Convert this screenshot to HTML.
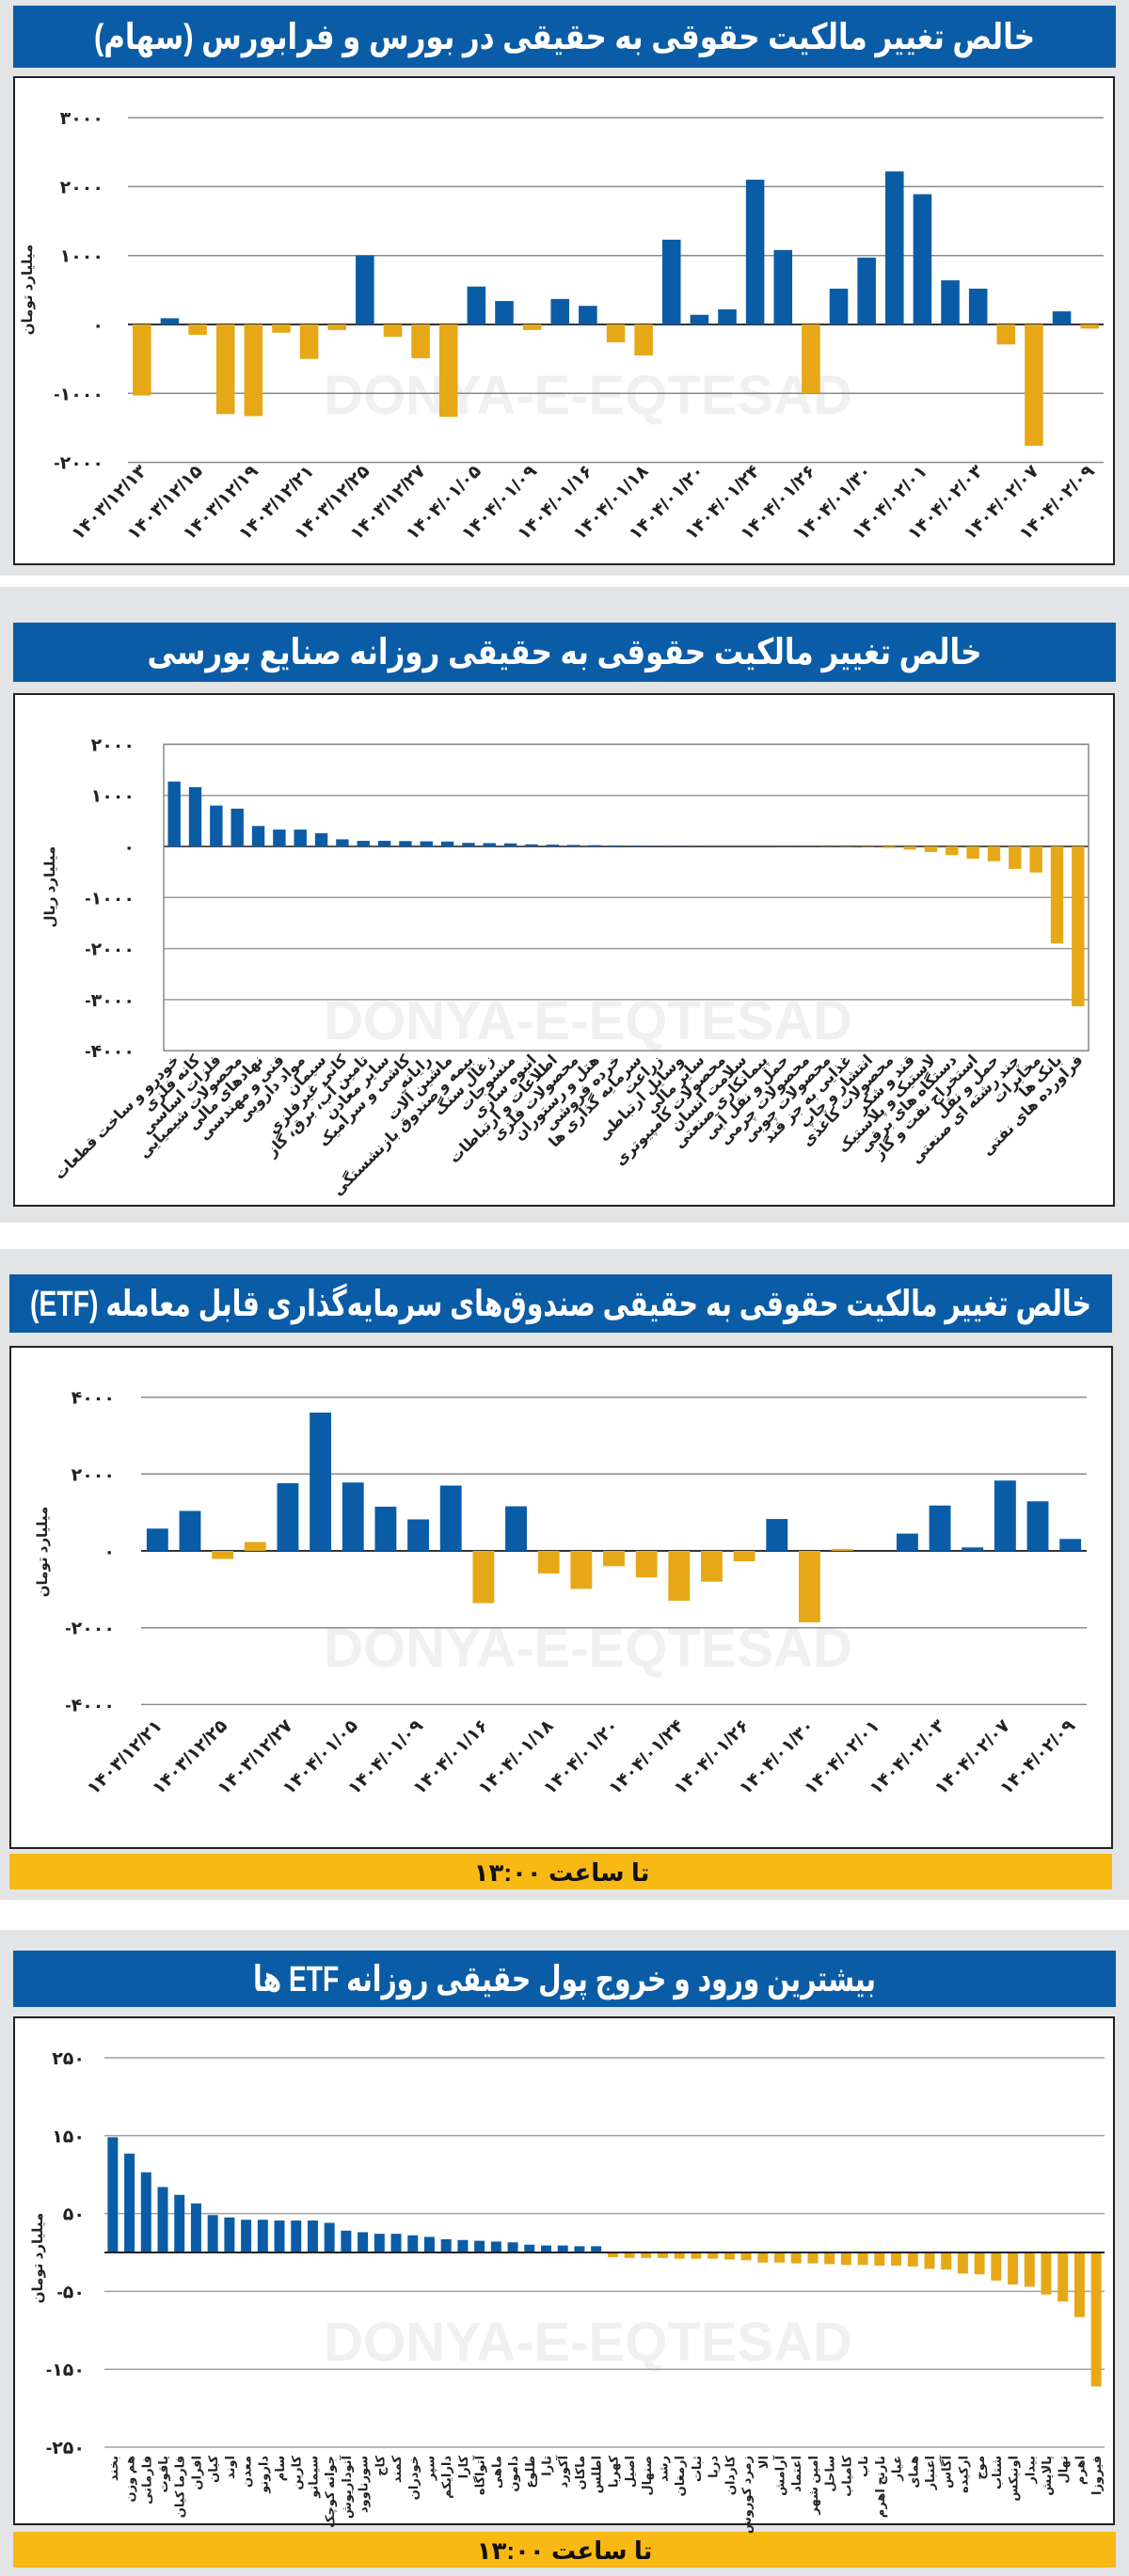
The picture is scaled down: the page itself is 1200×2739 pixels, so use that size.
<!DOCTYPE html>
<html><head><meta charset="utf-8"><style>
html,body{margin:0;padding:0;background:#fff;}
svg{display:block;font-family:"Liberation Sans","DejaVu Sans",sans-serif;}
.t{font-weight:bold;fill:#fff;}
.tick{font-size:19px;font-weight:bold;fill:#222;}
.ax{font-size:15px;font-weight:bold;fill:#222;}
.wm{font-size:58px;font-weight:bold;fill:#f0f0f0;}
</style></head><body>
<svg id="page" width="1200" height="2739" viewBox="0 0 1200 2739" xmlns="http://www.w3.org/2000/svg">
<rect x="0" y="0" width="1200" height="612" fill="#e3e4e6"/>
<rect x="0" y="624" width="1200" height="676" fill="#e3e4e6"/>
<rect x="0" y="1328" width="1200" height="692" fill="#e3e4e6"/>
<rect x="0" y="2052" width="1200" height="687" fill="#e3e4e6"/>

<rect x="14" y="6" width="1172" height="66" fill="#0b5ca6"/>
<text class="t" x="600" y="52" font-size="38" direction="rtl" text-anchor="middle" textLength="1000" lengthAdjust="spacingAndGlyphs">خالص تغییر مالکیت حقوقی به حقیقی در بورس و فرابورس (سهام)</text>
<rect x="14" y="662" width="1172" height="63" fill="#0b5ca6"/>
<text class="t" x="600" y="706" font-size="38" direction="rtl" text-anchor="middle" textLength="887" lengthAdjust="spacingAndGlyphs">خالص تغییر مالکیت حقوقی به حقیقی روزانه صنایع بورسی</text>
<rect x="10" y="1355" width="1172" height="62" fill="#0b5ca6"/>
<text class="t" x="596" y="1399" font-size="38" direction="rtl" text-anchor="middle" textLength="1128" lengthAdjust="spacingAndGlyphs">خالص تغییر مالکیت حقوقی به حقیقی صندوق‌های سرمایه‌گذاری قابل معامله (ETF)</text>
<rect x="14" y="2074" width="1172" height="60" fill="#0b5ca6"/>
<text class="t" x="600" y="2117" font-size="38" direction="rtl" text-anchor="middle" textLength="662" lengthAdjust="spacingAndGlyphs">بیشترین ورود و خروج پول حقیقی روزانه ETF ها</text>

<rect x="15" y="82" width="1169" height="518" fill="#fff" stroke="#222" stroke-width="2"/>
<rect x="15" y="738" width="1169" height="544" fill="#fff" stroke="#222" stroke-width="2"/>
<rect x="11" y="1432" width="1171" height="533" fill="#fff" stroke="#222" stroke-width="2"/>
<rect x="15" y="2145" width="1169" height="539" fill="#fff" stroke="#222" stroke-width="2"/>

<rect x="10" y="1971" width="1172" height="38" fill="#f9b914"/>
<text x="597" y="2000" font-size="26" font-weight="bold" fill="#111" direction="rtl" text-anchor="middle">تا ساعت ۱۳:۰۰</text>
<rect x="14" y="2692" width="1172" height="38" fill="#f9b914"/>
<text x="600" y="2721" font-size="26" font-weight="bold" fill="#111" direction="rtl" text-anchor="middle">تا ساعت ۱۳:۰۰</text>

<text class="wm" x="625" y="440" text-anchor="middle">DONYA-E-EQTESAD</text>
<text class="wm" x="625" y="1105" text-anchor="middle">DONYA-E-EQTESAD</text>
<text class="wm" x="625" y="1772" text-anchor="middle">DONYA-E-EQTESAD</text>
<text class="wm" x="625" y="2510" text-anchor="middle">DONYA-E-EQTESAD</text>

<g id="c1"></g>
<g id="c2"></g>
<g id="c3"></g>
<g id="c4"></g>
</svg>
<script>
const c1Dates = ["۱۴۰۳/۱۲/۱۳","۱۴۰۳/۱۲/۱۵","۱۴۰۳/۱۲/۱۹","۱۴۰۳/۱۲/۲۱","۱۴۰۳/۱۲/۲۵","۱۴۰۳/۱۲/۲۷","۱۴۰۴/۰۱/۰۵","۱۴۰۴/۰۱/۰۹","۱۴۰۴/۰۱/۱۶","۱۴۰۴/۰۱/۱۸","۱۴۰۴/۰۱/۲۰","۱۴۰۴/۰۱/۲۴","۱۴۰۴/۰۱/۲۶","۱۴۰۴/۰۱/۳۰","۱۴۰۴/۰۲/۰۱","۱۴۰۴/۰۲/۰۳","۱۴۰۴/۰۲/۰۷","۱۴۰۴/۰۲/۰۹"];
const c1Values = [-1030,90,-150,-1300,-1330,-120,-500,-80,1000,-180,-490,-1340,550,340,-80,370,270,-260,-450,1230,140,220,2100,1080,-1000,520,970,2220,1890,640,520,-290,-1760,190,-60];
const c1Ticks = [3000,2000,1000,0,-1000,-2000];
const c1TickLabels = ["۳۰۰۰","۲۰۰۰","۱۰۰۰","۰","-۱۰۰۰","-۲۰۰۰"];
const c2Industries = ["خودرو و ساخت قطعات","کانه فلزی","فلزات اساسی","محصولات شیمیایی","نهادهای مالی","فنی و مهندسی","مواد دارویی","سیمان","کانی غیرفلزی","تامین آب، برق، گاز","سایر معادن","کاشی و سرامیک","رایانه","ماشین آلات","بیمه و صندوق بازنشستگی","زغال سنگ","منسوجات","انبوه سازی","اطلاعات و ارتباطات","محصولات فلزی","هتل و رستوران","خرده فروشی","سرمایه گذاری ها","زراعت","وسایل ارتباطی","سایر مالی","محصولات کامپیوتری","سلامت انسان","پیمانکاری صنعتی","حمل و نقل آبی","محصولات چرمی","محصولات چوبی","غذایی به جز قند","انتشار و چاپ","محصولات کاغذی","قند و شکر","لاستیک و پلاستیک","دستگاه های برقی","استخراج نفت و گاز","حمل و نقل","چند رشته ای صنعتی","مخابرات","بانک ها","فراورده های نفتی"];
const c2Values = [1270,1160,800,740,400,330,330,260,140,110,110,105,100,95,70,65,60,40,35,30,25,20,15,8,5,3,2,1,0,-1,-2,-3,-5,-8,-30,-60,-110,-170,-240,-290,-440,-510,-1900,-3130];
const c2Ticks = [2000,1000,0,-1000,-2000,-3000,-4000];
const c2TickLabels = ["۲۰۰۰","۱۰۰۰","۰","-۱۰۰۰","-۲۰۰۰","-۳۰۰۰","-۴۰۰۰"];
const c3Dates = ["۱۴۰۳/۱۲/۲۱","۱۴۰۳/۱۲/۲۵","۱۴۰۳/۱۲/۲۷","۱۴۰۴/۰۱/۰۵","۱۴۰۴/۰۱/۰۹","۱۴۰۴/۰۱/۱۶","۱۴۰۴/۰۱/۱۸","۱۴۰۴/۰۱/۲۰","۱۴۰۴/۰۱/۲۴","۱۴۰۴/۰۱/۲۶","۱۴۰۴/۰۱/۳۰","۱۴۰۴/۰۲/۰۱","۱۴۰۴/۰۲/۰۳","۱۴۰۴/۰۲/۰۷","۱۴۰۴/۰۲/۰۹"];
const c3Values = [580,1040,-210,230,1760,3600,1780,1150,820,1700,-1360,1160,-590,-990,-400,-690,-1300,-800,-270,830,-1860,50,0,450,1180,90,1830,1290,310];
const c3Highlight = [0,0,1,1,0,0,0,0,0,0,1,0,1,1,1,1,1,1,1,0,1,1,0,0,0,0,0,0,0];
const c3Ticks = [4000,2000,0,-2000,-4000];
const c3TickLabels = ["۴۰۰۰","۲۰۰۰","۰","-۲۰۰۰","-۴۰۰۰"];
const c4Funds = ["بخند","هم وزن","فارمانی","یاقوت","فارما کیان","افران","کیان","اوند","معدن","دارونو","سام","کارین","سیمانو","جوانه کوچک","آتوداریوش","سورناوود","کاج","کمند","خودران","سپر","دارایکم","کارا","آتواگاه","ماهی","دامون","طلوع","تارا","آکورد","ماکان","اطلس","کهربا","اصیل","صنهال","رشد","ارمغان","ثبات","دریا","کاردان","زمرد کوروش","الا","آرامش","اعتماد","امین شهر","ساحل","کامیاب","ناب","نارنج اهرم","عیار","همای","اعتبار","آگاس","ارکیده","موج","شتاب","اونیکس","بیدار","پالایش","نهال","اهرم","فیروزا"];
const c4Values = [148,127,103,84,74,63,48,45,42,42,41,41,41,38,28,26,24,24,22,20,17,16,15,14,13,10,9,9,8,8,-6,-7,-7,-7,-8,-8,-8,-9,-10,-13,-13,-14,-14,-15,-16,-16,-17,-17,-18,-21,-22,-27,-28,-36,-41,-44,-54,-63,-83,-172];
const c4Ticks = [250,150,50,-50,-150,-250];
const c4TickLabels = ["۲۵۰","۱۵۰","۵۰","-۵۰","-۱۵۰","-۲۵۰"];

const NS = "http://www.w3.org/2000/svg";
const BLUE = "#0b5ca6", YEL = "#e6a817";
function mk(tag, attrs, parent){ const e=document.createElementNS(NS,tag); for(const k in attrs) e.setAttribute(k,attrs[k]); parent.appendChild(e); return e; }

function drawChart(id, cfg){
  const g = document.getElementById(id);
  const n = cfg.values.length;
  const slot = (cfg.right-cfg.left)/n;
  const y = v => cfg.zeroY - v*cfg.pxPerUnit;
  const xc = i => cfg.left + slot*(i+0.5);
  cfg.ticks.forEach((t,i)=>{
    const ln = mk("line",{x1:cfg.left,x2:cfg.right,y1:y(t),y2:y(t),stroke:t===0?cfg.zeroColor:cfg.gridColor,"stroke-width":t===0?2:1.5},g);
    
    
    const tx = mk("text",{x:cfg.tickX,y:y(t)+7,"text-anchor":"end",class:"tick"},g);
    tx.textContent = cfg.tickLabels[i];
    
    
  });
  if(cfg.frame){
    const fr = mk("rect",{x:cfg.left,y:y(cfg.ticks[0]),width:cfg.right-cfg.left,height:y(cfg.ticks[cfg.ticks.length-1])-y(cfg.ticks[0]),fill:"none",stroke:"#888","stroke-width":1.5},g);
    
    
  }
  cfg.values.forEach((v,i)=>{
    const w = slot*cfg.barRatio;
    const top = Math.min(y(v),cfg.zeroY), h = Math.abs(y(v)-cfg.zeroY);
    const col = cfg.colorOf(v,i);
    const r = mk("rect",{x:xc(i)-w/2,y:top,width:w,height:Math.max(h,0),fill:col},g);
    
    
  });
  if(cfg.ticks.indexOf(0)<0){
    const zl = mk("line",{x1:cfg.left,x2:cfg.right,y1:cfg.zeroY,y2:cfg.zeroY,stroke:cfg.zeroColor,"stroke-width":2},g);
    
    
  }
  cfg.labels.forEach((lab,j)=>{
    const i = j*cfg.labelStep;
    const lx = xc(i)+cfg.labelDx, ly = cfg.labelY;
    const tx = mk("text",{x:lx,y:ly,"text-anchor":"end","font-size":cfg.labelSize,"font-weight":"bold",fill:"#222",transform:`rotate(${cfg.labelRot} ${lx} ${ly})`},g);
    tx.textContent = lab;
    
    
  });
  const at = mk("text",{x:cfg.axX,y:cfg.axY,"text-anchor":"middle",class:"ax",transform:`rotate(-90 ${cfg.axX} ${cfg.axY})`},g);
  at.textContent = cfg.axTitle;
  
  
}

drawChart("c1",{values:c1Values,labels:c1Dates,labelStep:2,ticks:c1Ticks,tickLabels:c1TickLabels,
  left:136,right:1173,zeroY:345,pxPerUnit:0.0733,tickX:110,gridColor:"#8a8a8a",zeroColor:"#333",
  barRatio:0.66,colorOf:v=>v>=0?BLUE:YEL,labelY:502,labelDx:6,labelRot:-45,labelSize:19,
  axX:34,axY:308,axTitle:"میلیارد تومان"});
drawChart("c2",{values:c2Values,labels:c2Industries,labelStep:1,ticks:c2Ticks,tickLabels:c2TickLabels,
  left:174,right:1157,zeroY:900,pxPerUnit:0.0543,tickX:143,gridColor:"#9a9a9a",zeroColor:"#555",frame:true,
  barRatio:0.6,colorOf:v=>v>=0?BLUE:YEL,labelY:1128,labelDx:6,labelRot:-45,labelSize:16,
  axX:58,axY:943,axTitle:"میلیارد ریال"});
drawChart("c3",{values:c3Values,labels:c3Dates,labelStep:2,ticks:c3Ticks,tickLabels:c3TickLabels,
  left:150,right:1155,zeroY:1649,pxPerUnit:0.04085,tickX:122,gridColor:"#8a8a8a",zeroColor:"#333",
  barRatio:0.66,colorOf:(v,i)=>c3Highlight[i]?YEL:BLUE,labelY:1836,labelDx:6,labelRot:-45,labelSize:19,
  axX:50,axY:1650,axTitle:"میلیارد تومان"});
drawChart("c4",{values:c4Values,labels:c4Funds,labelStep:1,ticks:c4Ticks,tickLabels:c4TickLabels,
  left:111,right:1174,zeroY:2395,pxPerUnit:0.828,tickX:90,gridColor:"#a0a0a0",zeroColor:"#222",
  barRatio:0.62,colorOf:v=>v>=0?BLUE:YEL,labelY:2611,labelDx:5,labelRot:-90,labelSize:13,
  axX:45,axY:2401,axTitle:"میلیارد تومان"});
</script>
</body></html>
